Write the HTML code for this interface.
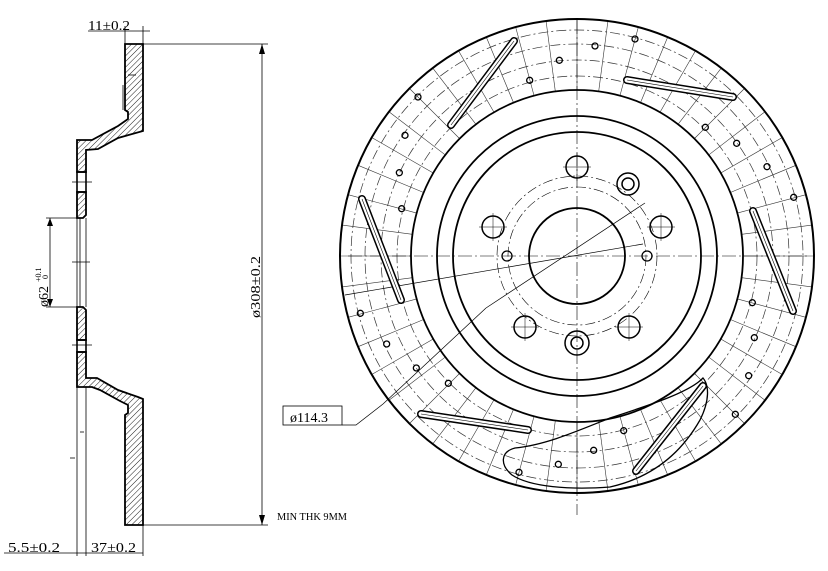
<!DOCTYPE html>
<html><head><meta charset="utf-8"><style>
html,body{margin:0;padding:0;background:#fff;}
svg{display:block}
text{font-family:"Liberation Serif",serif;fill:#000}
</style></head><body>
<svg id="s" width="828" height="571" viewBox="0 0 828 571" xmlns="http://www.w3.org/2000/svg">
<defs>
<pattern id="h" width="4" height="4" patternUnits="userSpaceOnUse" patternTransform="rotate(45)">
<line x1="0" y1="0" x2="0" y2="4" stroke="#000" stroke-width="0.9"/></pattern>
</defs>
<g fill="url(#h)" stroke="#000" stroke-width="1.8">
<polygon points="125,44 143,44 143,131 118,138 98,149 86,150 86,172 77,172 77,140 92,140 118,126 128,119 128,112 125,110"/>
<polygon points="77,192 86,192 86,215 83,218 77,218"/>
<polygon points="77,307 83,307 86,310 86,340 77,340"/>
<polygon points="77,352 86,352 86,378 97,378 118,390 138,397 143,399 143,525 125,525 125,415 128,413 128,405 120,401 100,390 92,387 77,387"/>
</g>
<g stroke="#000" stroke-width="0.8" fill="none">
<rect x="77" y="172" width="9" height="20" stroke-width="1.6"/>
<rect x="77" y="340" width="9" height="12" stroke-width="1.6"/>
<line x1="77" y1="218" x2="77" y2="307"/><line x1="80" y1="218" x2="80" y2="307"/><line x1="86" y1="218" x2="86" y2="307"/>
<line x1="77" y1="387" x2="77" y2="556"/><line x1="86" y1="387" x2="86" y2="556"/><line x1="143" y1="525" x2="143" y2="556"/>
<line x1="143" y1="44" x2="143" y2="26"/><line x1="125" y1="44" x2="125" y2="26"/>
<line x1="88" y1="31" x2="150" y2="31"/>
<line x1="4" y1="553" x2="143" y2="553"/>
<line x1="143" y1="44" x2="268" y2="44"/><line x1="143" y1="525" x2="268" y2="525"/>
<line x1="262" y1="44" x2="262" y2="525"/>
<line x1="46" y1="218" x2="78" y2="218"/><line x1="46" y1="307" x2="78" y2="307"/>
<line x1="50" y1="218" x2="50" y2="307"/>
<line x1="72" y1="182" x2="92" y2="182"/><line x1="72" y1="262" x2="90" y2="262"/><line x1="72" y1="345" x2="92" y2="345"/>
<line x1="123" y1="85" x2="123" y2="110"/><line x1="128" y1="75" x2="136" y2="75"/>
<line x1="80" y1="432" x2="84" y2="432"/><line x1="70" y1="458" x2="75" y2="458"/>
</g>
<g fill="#000">
<polygon points="262,44 259,54 265,54"/><polygon points="262,525 259,515 265,515"/>
<polygon points="50,218 47,226 53,226"/><polygon points="50,307 47,299 53,299"/>
</g>
<text x="88" y="30" font-size="14" textLength="42" lengthAdjust="spacingAndGlyphs">11±0.2</text>
<text x="8" y="552" font-size="14" textLength="52" lengthAdjust="spacingAndGlyphs">5.5±0.2</text>
<text x="91" y="552" font-size="14" textLength="45" lengthAdjust="spacingAndGlyphs">37±0.2</text>
<text x="277" y="520" font-size="11" textLength="70" lengthAdjust="spacingAndGlyphs">MIN THK 9MM</text>
<text transform="translate(260,318) rotate(-90)" font-size="14" textLength="62" lengthAdjust="spacingAndGlyphs">ø308±0.2</text>
<text transform="translate(48,307) rotate(-90)" font-size="14">ø62</text>
<text transform="translate(41,282) rotate(-90)" font-size="8">+0.1</text>
<text transform="translate(48,279) rotate(-90)" font-size="8">0</text>
<g id="disc" stroke="#000" fill="none"></g>
<rect x="283" y="406" width="59" height="19" fill="#fff" stroke="#000" stroke-width="0.8"/>
<text x="290" y="422" font-size="14">ø114.3</text>
</svg>
<script>
var g=document.getElementById('disc'),cx=577,cy=256,NS="http://www.w3.org/2000/svg";
function el(t,a){var e=document.createElementNS(NS,t);for(var k in a)e.setAttribute(k,a[k]);g.appendChild(e);return e;}
for(var a=0;a<360;a+=7.5){var r=a*Math.PI/180;
el('line',{x1:cx+166*Math.cos(r),y1:cy+166*Math.sin(r),x2:cx+236*Math.cos(r),y2:cy+236*Math.sin(r),'stroke-width':0.6,stroke:'#333'});}
[180,196,212,226].forEach(function(r){el('circle',{cx:cx,cy:cy,r:r,'stroke-width':0.7,'stroke-dasharray':'10 3 2 3',stroke:'#333'});});
[80,69].forEach(function(r){el('circle',{cx:cx,cy:cy,r:r,'stroke-width':0.6,'stroke-dasharray':'10 3 2 3'});});
el('circle',{cx:cx,cy:cy,r:237,'stroke-width':2});
[166,140,124,48].forEach(function(r){el('circle',{cx:cx,cy:cy,r:r,'stroke-width':1.8});});
el('line',{x1:348,y1:256,x2:808,y2:256,'stroke-width':0.6,'stroke-dasharray':'14 3 2 3'});
el('line',{x1:577,y1:20,x2:577,y2:515,'stroke-width':0.6,'stroke-dasharray':'14 3 2 3'});
el('line',{x1:645,y1:203,x2:486,y2:308,'stroke-width':0.7});
el('polyline',{points:'486,308 383,404 356,425 342,425','stroke-width':0.7});
el('line',{x1:643,y1:244,x2:345,y2:295,'stroke-width':0.7});
[[577,167],[493,227],[661,227],[525,327],[629,327]].forEach(function(p){el('circle',{cx:p[0],cy:p[1],r:11,'stroke-width':1.5});
el('line',{x1:p[0]-14,y1:p[1],x2:p[0]+14,y2:p[1],'stroke-width':0.5});el('line',{x1:p[0],y1:p[1]-14,x2:p[0],y2:p[1]+14,'stroke-width':0.5});});
[[628,184,11],[577,343,12]].forEach(function(p){el('circle',{cx:p[0],cy:p[1],r:p[2],'stroke-width':1.5});el('circle',{cx:p[0],cy:p[1],r:6,'stroke-width':1.5});});
[[507,256],[647,256]].forEach(function(p){el('circle',{cx:p[0],cy:p[1],r:5,'stroke-width':1.3});});
[[514,41,451,125],[627,80,733,97],[753,211,793,311],[703,386,636,471],[528,430,421,414],[362,199,401,300]].forEach(function(s){
el('line',{x1:s[0],y1:s[1],x2:s[2],y2:s[3],'stroke-width':8,'stroke-linecap':'round',stroke:'#000'});
el('line',{x1:s[0],y1:s[1],x2:s[2],y2:s[3],'stroke-width':5,'stroke-linecap':'round',stroke:'#fff'});
el('line',{x1:s[0],y1:s[1],x2:s[2],y2:s[3],'stroke-width':0.6,stroke:'#000'});});
[[885,57],[765,78],[658,121],[569,181],[234,231],[195,346],[178,458],[185,566],[61,880],[140,972],[229,1044],[325,1090],[1096,322],[1190,370],[1281,440],[1361,532],[1237,848],[1243,953],[1226,1067],[1186,1183],[851,1232],[761,1291],[655,1333],[537,1357]].forEach(function(p){
el('circle',{cx:p[0]/3+340,cy:p[1]/3+20,r:3,'stroke-width':1.3});});
el('path',{d:'M703,378 C690,392 650,405 610,418 C575,432 545,445 515,448 C500,452 500,465 512,475 C530,487 570,490 610,487 C650,478 680,455 700,420 C710,400 709,385 703,378 Z','stroke-width':1.3});
</script>
</body></html>
